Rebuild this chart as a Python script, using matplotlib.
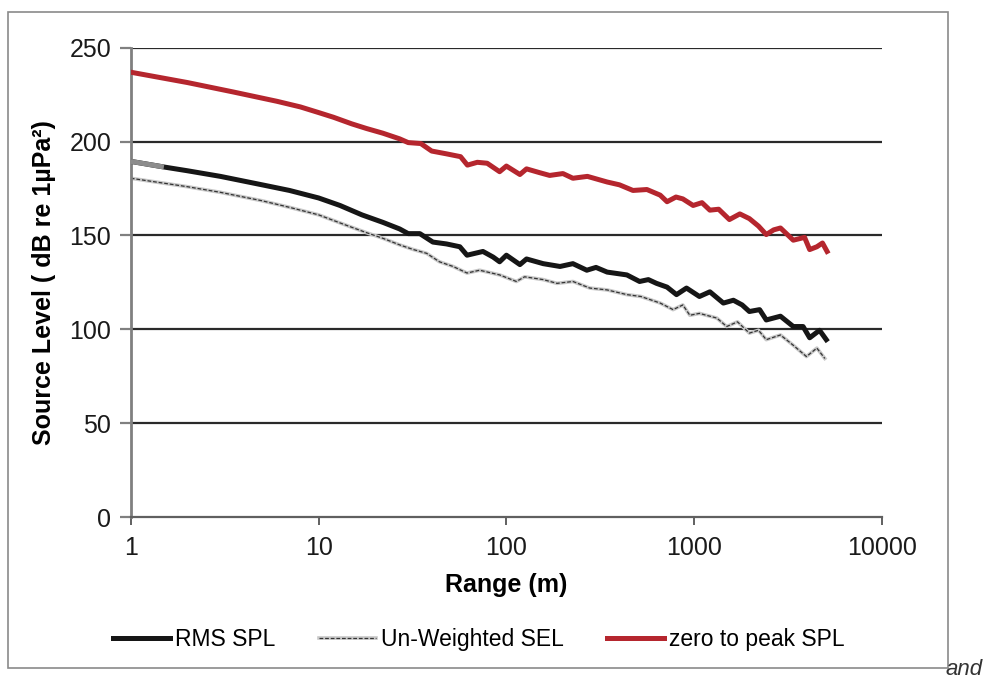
import matplotlib
matplotlib.use("Agg")
import matplotlib.pyplot as plt
from matplotlib.patches import Rectangle

plt.rcParams['font.family'] = ['Liberation Sans', 'DejaVu Sans']

# zero to peak SPL
peak_x = [1, 2, 3.5, 6, 8, 10, 12, 15, 18, 22, 27, 30, 35, 40, 48, 57, 62, 70, 79, 92,
          100, 118, 128, 150, 170, 200, 226, 270, 344, 400, 472, 560, 659, 717, 800, 870,
          987, 1100, 1212, 1350, 1540, 1750, 1967, 2200, 2420, 2650, 2880, 3370, 3870,
          4120, 4500, 4820, 5100]
peak_y = [237, 231.5, 226.5, 221.5, 218.5, 215.5, 213, 209.5, 207, 204.5, 201.5, 199.5,
          199, 195, 193.5, 192, 187.5, 189, 188.5, 184, 187, 182.5, 185.5, 183.5, 182, 183,
          180.5, 181.5, 178.5, 177, 174, 174.5, 171.5, 168, 170.5, 169.5, 166, 167.5, 163.5,
          164, 158.5, 161.5, 159, 155, 150.5, 153, 154, 147.5, 149, 142.5, 144, 146, 141.5]

# RMS SPL
rms_x = [1, 1.5, 2, 3, 5, 7, 10, 13, 17, 22, 27, 30, 34.6, 40.6, 48, 56.5, 61.7, 75, 85,
         92, 100, 118, 128, 157, 193, 226, 268, 300, 344, 438, 512, 570, 630, 717, 805,
         910, 1066, 1212, 1430, 1617, 1800, 1967, 2230, 2420, 2880, 3370, 3800, 4120,
         4650, 5050]
rms_y = [189.5, 186.5, 184.5, 181.5, 177, 174, 170, 166, 161, 157, 153.5, 151, 151, 146.5,
         145.5, 144, 139.5, 141.5, 138.5, 136, 139.5, 134.5, 137.5, 135, 133.5, 135, 131.5,
         133, 130.5, 129, 125.5, 126.5, 124.5, 122.5, 118.5, 122, 117.5, 120, 114, 115.5,
         113, 109.5, 110.5, 105, 107, 101.5, 101.5, 95.5, 99.5, 94.5]

# Un-Weighted SEL
sel_x = [1, 2, 3, 5, 7, 10, 14, 18, 22, 27, 32, 37.6, 44, 52, 61.7, 72, 92, 113, 125, 157,
         186, 226, 278, 344, 438, 520, 659, 772, 870, 948, 1066, 1320, 1490, 1700, 1967,
         2200, 2420, 2880, 3370, 3960, 4500, 4960]
sel_y = [180.5, 176, 173, 168.5, 165, 161, 155.5, 151.5, 148.5, 145, 142.5, 140.5, 136,
         133.5, 130, 131.5, 129, 125.5, 128, 126.5, 124.5, 125.5, 122, 121, 118.5, 117.5,
         114, 110.5, 113, 107.5, 108.5, 106, 101.5, 104, 98, 99.5, 94.5, 97, 91.5, 85.5,
         90, 84.5]

yticks = [0, 50, 100, 150, 200, 250]
xticks = [1, 10, 100, 1000, 10000]
xlabels = ['1', '10', '100', '1000', '10000']

fig = plt.figure(figsize=(9.91, 6.83), dpi=100)
ax = fig.add_axes([0.132, 0.243, 0.758, 0.687])

for v in yticks[1:]:
    ax.axhline(v, color='#2a2a2a', lw=1.6, zorder=1)

l1, = ax.plot(rms_x, rms_y, color='#161616', lw=3.6, label='RMS SPL', zorder=3)
# scanned start of the RMS curve is lighter
ax.plot(rms_x[:2], rms_y[:2], color='#8c8c8c', lw=3.6, zorder=3.1, solid_capstyle='butt')
sel_bg, = ax.plot(sel_x, sel_y, color='#c8c8c8', lw=2.6, zorder=2)
sel_fg, = ax.plot(sel_x, sel_y, color='#333333', lw=0.9, ls=(0, (3, 1.5)), zorder=2.5)
l3, = ax.plot(peak_x, peak_y, color='#b5262e', lw=3.6, label='zero to peak SPL', zorder=3)

ax.set_xscale('log')
ax.set_xlim(1, 10000)
ax.set_ylim(0, 250)
ax.set_xticks(xticks)
ax.set_xticklabels(xlabels)
ax.minorticks_off()
ax.set_yticks(yticks)

for s in ['top', 'right']:
    ax.spines[s].set_visible(False)
ax.spines['left'].set_color('#808080')
ax.spines['left'].set_linewidth(2)
ax.spines['bottom'].set_color('#606060')
ax.spines['bottom'].set_linewidth(1.6)

ax.tick_params(axis='y', length=8, width=1.6, color='#808080', labelsize=18, pad=6)
ax.tick_params(axis='x', length=6, width=1.4, color='#606060', labelsize=18, pad=8)
for t in ax.get_xticklabels() + ax.get_yticklabels():
    t.set_color('#1a1a1a')

ax.set_xlabel('Range (m)', fontsize=18, fontweight='bold', labelpad=9)
ax.set_ylabel('Source Level ( dB re 1µPa²)', fontsize=18, fontweight='bold', labelpad=10)

fig.legend([l1, (sel_bg, sel_fg), l3], ['RMS SPL', 'Un-Weighted SEL', 'zero to peak SPL'],
           loc='center', bbox_to_anchor=(0.483, 0.063), ncol=3, frameon=False,
           fontsize=16.5, handlelength=2.5, handletextpad=0.2, columnspacing=1.9)

fig.add_artist(Rectangle((8 / 991, 1 - 668 / 683), 940 / 991, 656 / 683,
                         transform=fig.transFigure, fill=False, ec='#8a8a8a', lw=1.2))
fig.text(0.954, 0.012, 'and', fontsize=16, style='italic', color='#333333')

fig.savefig('out.png', dpi=100)
